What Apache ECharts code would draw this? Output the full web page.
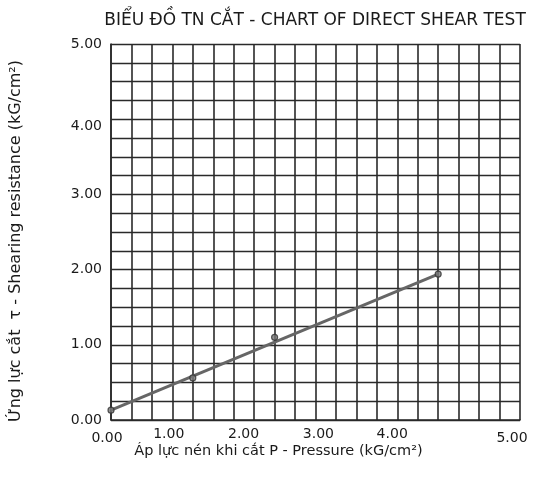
<!DOCTYPE html>
<html>
<head>
<meta charset="utf-8">
<script src="https://cdn.jsdelivr.net/npm/echarts@6/dist/echarts.min.js"></script>
<style>html,body{margin:0;padding:0;background:#fff}#c{width:533px;height:479px}</style>
</head>
<body>
<div id="c"></div>
<script>
const titleText = 'BIỂU ĐỒ TN CẮT - CHART OF DIRECT SHEAR TEST';
const xName = 'Áp lực nén khi cắt P - Pressure (kG/cm²)';
const yName = 'Ứng lực cắt  τ - Shearing resistance (kG/cm²)';
const pressure = [0, 1, 2, 4];
const shear = [0.13, 0.56, 1.10, 1.94];
const fitX = [0, 4];
const fitY = [0.13, 1.94];
const xTickLabels = ['0.00', '1.00', '2.00', '3.00', '4.00', '5.00'];
const yTickLabels = ['0.00', '1.00', '2.00', '3.00', '4.00', '5.00'];

const points = pressure.map((p, i) => [p, shear[i]]);
const fit = fitX.map((p, i) => [p, fitY[i]]);

const font = 'DejaVu Sans';
const txt = '#1a1a1a';
const chart = echarts.init(document.getElementById('c'), null, {renderer: 'canvas'});
const xRich = {
  a0: {padding: [4, 8, 0, 0]},
  a1: {padding: [0, 48, 0, 0]},
  a2: {padding: [0, 62, 0, 0]},
  a3: {padding: [0, 76, 0, 0]},
  a4: {padding: [0, 92, 0, 0]},
  a5: {padding: [4, 16, 0, 0]}
};
const yRich = {
  b0: {}, b1: {}, b2: {}, b3: {},
  b4: {padding: [14, 0, 0, 0]},
  b5: {}
};
const richOf = (obj) => Object.fromEntries(Object.entries(obj).map(([k, s]) =>
  [k, Object.assign({fontFamily: font, fontSize: 14, color: txt}, s)]));
chart.setOption({
  backgroundColor: '#fff',
  animation: false,
  title: {
    text: titleText,
    left: 310, textAlign: 'center', top: 7,
    textStyle: {fontFamily: font, fontSize: 17, fontWeight: 'normal', color: txt}
  },
  grid: {left: 110, right: 13, top: 44, bottom: 59},
  xAxis: {
    type: 'value', min: 0, max: 5, interval: 1,
    name: xName, nameLocation: 'middle', nameGap: 24, nameMoveOverlap: false,
    nameTextStyle: {fontFamily: font, fontSize: 14.5, color: txt, padding: [0, 74, 0, 0]},
    axisLine: {show: true, lineStyle: {color: '#2a2a2a', width: 1.6}},
    axisTick: {show: false},
    minorTick: {show: false, splitNumber: 4},
    splitLine: {show: true, lineStyle: {color: '#2a2a2a', width: 1.6}},
    minorSplitLine: {show: true, lineStyle: {color: '#2a2a2a', width: 1.6}},
    axisLabel: {
      margin: 7, color: txt, fontFamily: font, fontSize: 14,
      formatter: v => { const i = Math.round(v); return '{a' + i + '|' + xTickLabels[i] + '}'; },
      rich: richOf(xRich)
    }
  },
  yAxis: {
    type: 'value', min: 0, max: 5, interval: 1,
    name: yName, nameLocation: 'middle', nameGap: 87, nameRotate: 90, nameMoveOverlap: false,
    nameTextStyle: {fontFamily: font, fontSize: 16, color: txt, padding: [0, 18, 0, 0]},
    axisLine: {show: true, lineStyle: {color: '#2a2a2a', width: 1.6}},
    axisTick: {show: false},
    minorTick: {show: false, splitNumber: 4},
    splitLine: {show: true, lineStyle: {color: '#2a2a2a', width: 1.3}},
    minorSplitLine: {show: true, lineStyle: {color: '#2a2a2a', width: 1.3}},
    axisLabel: {
      margin: 9, color: txt, fontFamily: font, fontSize: 14,
      formatter: v => { const i = Math.round(v); return '{b' + i + '|' + yTickLabels[i] + '}'; },
      rich: richOf(yRich)
    }
  },
  series: [
    {
      type: 'line', data: fit, showSymbol: false, z: 3,
      lineStyle: {color: '#666', width: 3}
    },
    {
      type: 'scatter', data: points, symbol: 'circle', symbolSize: 6, z: 4,
      itemStyle: {color: '#777', borderColor: '#333', borderWidth: 1.2}
    }
  ]
});
</script>
</body>
</html>
